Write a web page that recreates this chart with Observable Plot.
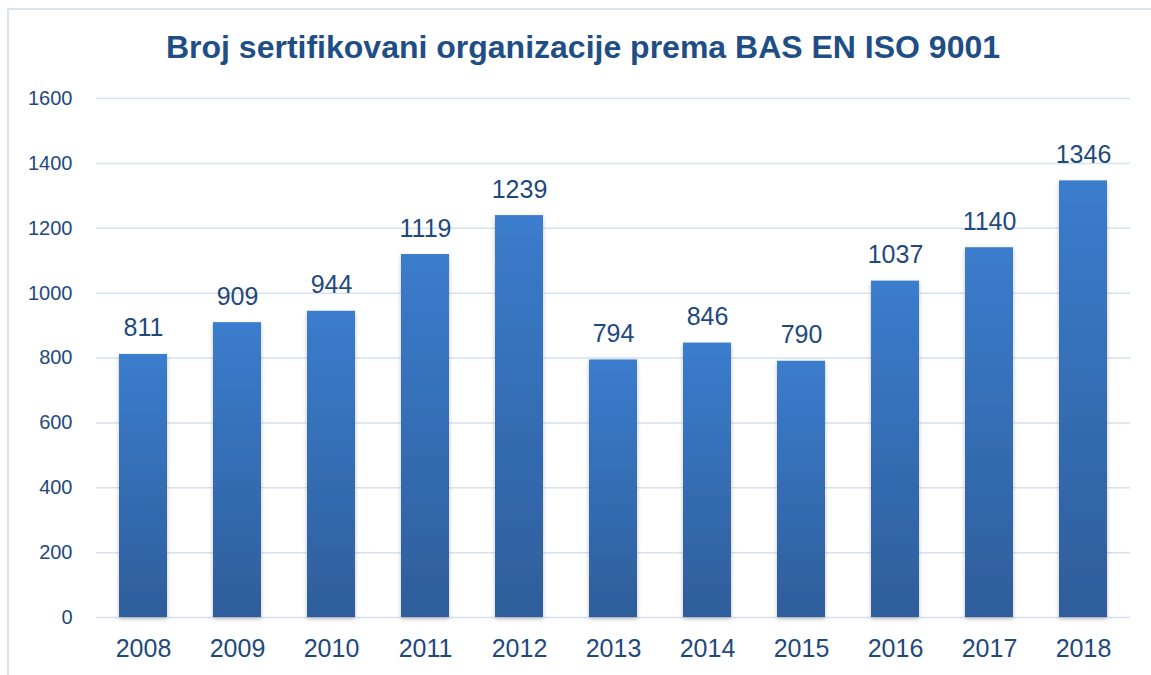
<!DOCTYPE html>
<html>
<head>
<meta charset="utf-8">
<script src="https://cdn.jsdelivr.net/npm/d3@7"></script>
<script src="https://cdn.jsdelivr.net/npm/@observablehq/plot@0.6"></script>
<style>
  html, body { margin: 0; padding: 0; background: #fff; }
  #wrap { position: relative; width: 1151px; height: 675px; overflow: hidden; font-family: "Liberation Sans", Arial, sans-serif; }
  #frame { position: absolute; left: 7px; top: 8px; width: 1160px; height: 700px; border: 2px solid #d6e3f3; box-sizing: border-box; }
  #title { position: absolute; left: 0; top: 0; width: 1166px; height: 80px; line-height: 94px; text-align: center; font-weight: bold; font-size: 32px; color: #1f4e86; }
  #chart { position: absolute; left: 0; top: 80px; }
</style>
</head>
<body>
<div id="wrap">
  <div id="frame"></div>
  <div id="title">Broj sertifikovani organizacije prema BAS EN ISO 9001</div>
  <div id="chart"></div>
</div>
<script>
const years = ["2008","2009","2010","2011","2012","2013","2014","2015","2016","2017","2018"];
const counts = [811, 909, 944, 1119, 1239, 794, 846, 790, 1037, 1140, 1346];
const yTicks = [0, 200, 400, 600, 800, 1000, 1200, 1400, 1600];

const data = years.map((y, i) => ({year: y, count: counts[i]}));
const textColor = "#1f497d";

const plot = Plot.plot({
  width: 1151,
  height: 595,
  marginLeft: 96,
  marginRight: 21,
  marginTop: 18,
  marginBottom: 58,
  style: {fontFamily: "'Liberation Sans', Arial, sans-serif", background: "transparent", overflow: "visible"},
  x: {domain: years, paddingInner: 0.49, paddingOuter: 0.245, label: null},
  y: {domain: [0, 1600], label: null},
  marks: [
    () => {
      const svg = d3.create("svg:defs");
      const g = svg.append("linearGradient").attr("id", "barGrad").attr("x1", 0).attr("y1", 0).attr("x2", 0).attr("y2", 1).attr("gradientUnits", "objectBoundingBox");
      g.append("stop").attr("offset", "0%").attr("stop-color", "#3b7ccd");
      g.append("stop").attr("offset", "100%").attr("stop-color", "#2e5e9b");
      const f = svg.append("filter").attr("id", "shadow").attr("x", "-20%").attr("y", "-5%").attr("width", "140%").attr("height", "115%");
      f.append("feDropShadow").attr("dx", 0).attr("dy", 2).attr("stdDeviation", 2).attr("flood-color", "#000").attr("flood-opacity", 0.25);
      return svg.node();
    },
    Plot.ruleY(yTicks, {stroke: "#d5e2f2", strokeWidth: 1.5}),
    Plot.axisY(yTicks, {tickSize: 0, tickPadding: 24, fontSize: 20, fill: textColor, tickFormat: d => String(d)}),
    Plot.axisX(years, {tickSize: 0, tickPadding: 22, fontSize: 25, fill: textColor}),
    Plot.barY(data, {x: "year", y: "count", fill: "url(#barGrad)"}),
    Plot.text(data, {x: "year", y: "count", text: d => String(d.count), lineAnchor: "bottom", dy: -18, fontSize: 25, fill: textColor})
  ]
});
d3.select(plot).selectAll("rect").attr("filter", "url(#shadow)");
document.getElementById("chart").appendChild(plot);
</script>
</body>
</html>
